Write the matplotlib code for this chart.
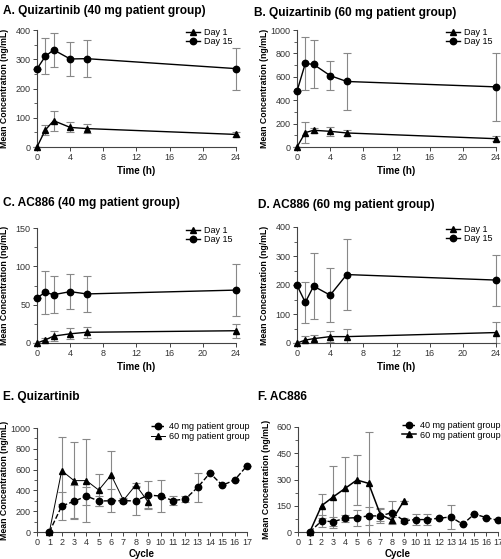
import numpy as np
import matplotlib

matplotlib.use("Agg")
import matplotlib.pyplot as plt
from matplotlib.ticker import MultipleLocator

plt.rcParams["font.family"] = ["Liberation Sans", "DejaVu Sans"]

# --- panels A-D: concentration vs time (h) ---
hours = [0, 1, 2, 4, 6, 24]

quiz40_day1 = [0, 58, 90, 67, 63, 43]
quiz40_day1_sd = [0, 18, 34, 17, 16, 9]
quiz40_day15 = [267, 310, 332, 301, 302, 268]
quiz40_day15_sd = [0, 62, 59, 59, 64, 72]

quiz60_day1 = [0, 123, 143, 134, 120, 71]
quiz60_day1_sd = [0, 88, 20, 36, 28, 22]
quiz60_day15 = [477, 714, 706, 610, 560, 514]
quiz60_day15_sd = [0, 223, 205, 122, 245, 292]

ac40_day1 = [0, 4, 9, 12, 14, 16]
ac40_day1_sd = [0, 2, 7, 7, 7, 9]
ac40_day15 = [59, 66, 63, 67, 64, 69]
ac40_day15_sd = [0, 28, 24, 23, 24, 34]

ac60_day1 = [0, 10, 15, 22, 22, 36]
ac60_day1_sd = [0, 15, 14, 19, 26, 35]
ac60_day15 = [199, 140, 196, 165, 236, 217]
ac60_day15_sd = [0, 71, 113, 92, 122, 88]

# --- panels E-F: concentration vs cycle ---
cycles_40 = list(range(1, 18))
cycles_60 = list(range(1, 10))

quiz_cyc40 = [0, 250, 295, 346, 298, 300, 300, 300, 355, 346, 302, 317, 428, 567, 449, 500, 637]
quiz_cyc40_sd = [0, 138, 160, 85, 45, 110, 15, 140, 135, 150, 42, 30, 135, 0, 0, 0, 0]
quiz_cyc60 = [0, 590, 494, 494, 403, 548, 306, 452, 288]
quiz_cyc60_sd = [0, 325, 370, 400, 155, 229, 20, 15, 55]

ac_cyc40 = [0, 63, 59, 79, 82, 92, 92, 111, 65, 71, 71, 79, 86, 44, 103, 82, 67]
ac_cyc40_sd = [0, 35, 25, 20, 45, 50, 40, 66, 16, 30, 30, 0, 66, 0, 0, 0, 0]
ac_cyc60 = [0, 150, 201, 249, 297, 278, 100, 67, 178]
ac_cyc60_sd = [0, 70, 179, 182, 144, 293, 35, 18, 0]

ERR_COLOR = "#888888"
TICK_COLOR = "#333333"
W, H = 502, 559


def fig_rect(x0, y_top, x1, y_bot):
    return [x0 / W, 1 - y_bot / H, (x1 - x0) / W, (y_bot - y_top) / H]


def style_axes(ax, ystep):
    for side in ("top", "right"):
        ax.spines[side].set_visible(False)
    for side in ("left", "bottom"):
        ax.spines[side].set_linewidth(0.8)
        ax.spines[side].set_color("#444444")
    ax.yaxis.set_minor_locator(MultipleLocator(ystep / 2))
    ax.tick_params(labelsize=6.5, colors="#444444", labelcolor=TICK_COLOR,
                   length=3, width=0.7, pad=1.5)
    ax.tick_params(axis="y", which="minor", length=2, width=0.6, colors="#444444")


def draw_series(ax, x, y, sd, marker, ls, lw):
    y = np.array(y, dtype=float)
    sd = np.array(sd, dtype=float)
    lower = np.minimum(sd, y)
    ax.errorbar(x, y, yerr=[lower, sd], fmt="none", ecolor=ERR_COLOR,
                elinewidth=0.8, capsize=3, capthick=0.8, clip_on=False, zorder=2)
    line, = ax.plot(x, y, color="black", ls=ls, lw=lw, marker=marker,
                    markersize=4.6, clip_on=False, zorder=3)
    return line


def label_axes(ax, xlabel, ylabel_x):
    ax.set_xlabel(xlabel, fontsize=7.0, fontweight="bold", labelpad=3)
    ax.set_ylabel("Mean Concentration (ng/mL)", fontsize=6.3, fontweight="bold")
    ax.yaxis.set_label_coords(ylabel_x, 0.5)


def time_panel(rect, title, title_xy, day1, day1_sd, day15, day15_sd, ymax, ystep):
    ax = fig.add_axes(rect)
    h1 = draw_series(ax, hours, day1, day1_sd, "^", "-", 1.0)
    h15 = draw_series(ax, hours, day15, day15_sd, "o", "-", 1.0)
    ax.set_xlim(0, 24)
    ax.set_ylim(0, ymax)
    ax.set_xticks(range(0, 25, 4))
    ax.set_yticks(np.arange(0, ymax + 1, ystep))
    style_axes(ax, ystep)
    label_axes(ax, "Time (h)", -0.14)
    ax.legend([h1, h15], ["Day 1", "Day 15"], loc="upper right", frameon=False,
              fontsize=6.5, handlelength=1.6, handletextpad=0.4, labelspacing=0.05,
              borderaxespad=0.0, bbox_to_anchor=(1.0, 1.05))
    fig.text(title_xy[0] / W, 1 - title_xy[1] / H, title, fontsize=8.6,
             fontweight="bold", va="center", ha="left")
    return ax


def cycle_panel(rect, title, title_xy, c40, c40_sd, c60, c60_sd, ymax, ystep, lw60):
    ax = fig.add_axes(rect)
    h40 = draw_series(ax, cycles_40, c40, c40_sd, "o", "--", 1.0)
    h60 = draw_series(ax, cycles_60, c60, c60_sd, "^", "-", lw60)
    ax.set_xlim(0, 17)
    ax.set_ylim(0, ymax)
    ax.set_xticks(range(0, 18))
    ax.set_yticks(np.arange(0, ymax + 1, ystep))
    style_axes(ax, ystep)
    label_axes(ax, "Cycle", -0.135)
    ax.xaxis.labelpad = 1
    ax.legend([h40, h60], ["40 mg patient group", "60 mg patient group"],
              loc="upper right", frameon=False, fontsize=6.5, handlelength=1.6,
              handletextpad=0.4, labelspacing=0.05, borderaxespad=0.0,
              bbox_to_anchor=(1.03, 1.09))
    fig.text(title_xy[0] / W, 1 - title_xy[1] / H, title, fontsize=8.6,
             fontweight="bold", va="center", ha="left")
    return ax


fig = plt.figure(figsize=(5.02, 5.59), dpi=100)

time_panel(fig_rect(37, 30, 236, 147), "A. Quizartinib (40 mg patient group)", (3, 11),
           quiz40_day1, quiz40_day1_sd, quiz40_day15, quiz40_day15_sd, 400, 100)
time_panel(fig_rect(297, 30, 496, 147), "B. Quizartinib (60 mg patient group)", (254, 13),
           quiz60_day1, quiz60_day1_sd, quiz60_day15, quiz60_day15_sd, 1000, 200)
time_panel(fig_rect(37, 228, 236, 343), "C. AC886 (40 mg patient group)", (3, 203),
           ac40_day1, ac40_day1_sd, ac40_day15, ac40_day15_sd, 150, 50)
time_panel(fig_rect(297, 227, 496, 343), "D. AC886 (60 mg patient group)", (258, 205),
           ac60_day1, ac60_day1_sd, ac60_day15, ac60_day15_sd, 400, 100)
cycle_panel(fig_rect(37, 428, 247, 532), "E. Quizartinib", (3, 397),
            quiz_cyc40, quiz_cyc40_sd, quiz_cyc60, quiz_cyc60_sd, 1000, 200, 0.7)
cycle_panel(fig_rect(298, 427, 498, 532), "F. AC886", (258, 397),
            ac_cyc40, ac_cyc40_sd, ac_cyc60, ac_cyc60_sd, 600, 150, 1.1)

fig.savefig("out.png", dpi=100)
